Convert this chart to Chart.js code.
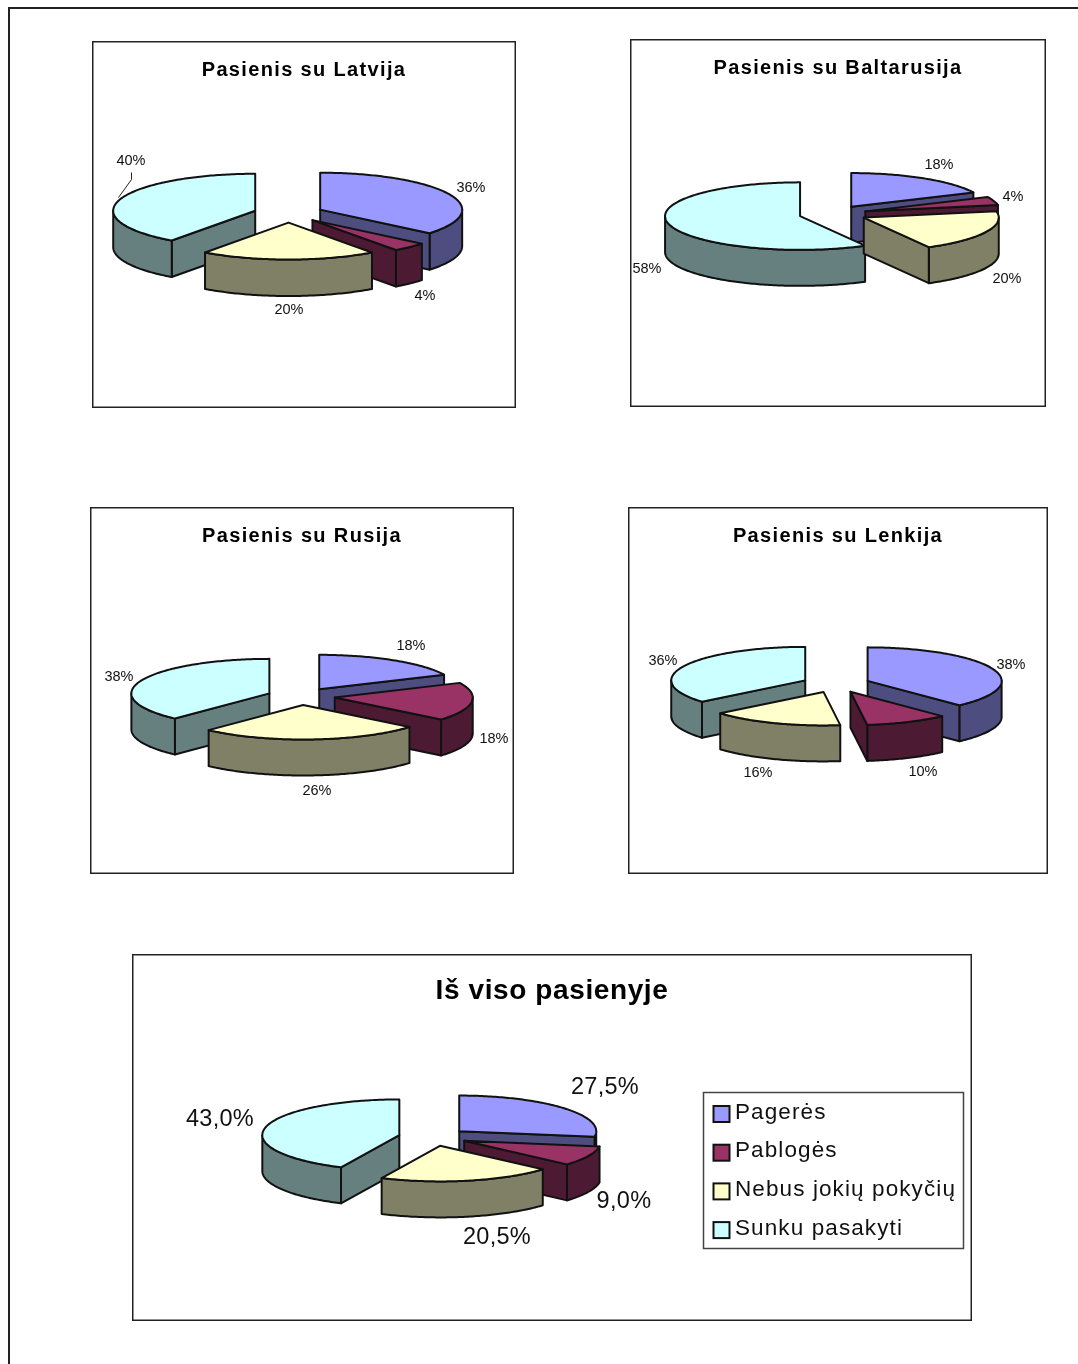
<!DOCTYPE html>
<html lang="lt">
<head>
<meta charset="utf-8">
<title>Pasienis</title>
<script src="https://cdn.jsdelivr.net/npm/chart.js@4/dist/chart.umd.js"></script>
<style>
  html, body { margin: 0; padding: 0; background: #fff; }
  body { position: relative; width: 1078px; height: 1364px; overflow: hidden; }
  #frame { position: absolute; left: 8px; top: 7px; right: -4px; bottom: -4px; border: 2px solid #222; }
  canvas { position: absolute; display: block; }
</style>
</head>
<body>
<div id="frame"></div>
<script>
const categories = ['Pagerės', 'Pablogės', 'Nebus jokių pokyčių', 'Sunku pasakyti'];

const latvijaValues = [36, 4, 20, 40];
const baltarusijaValues = [18, 4, 20, 58];
const rusijaValues = [18, 18, 26, 38];
const lenkijaValues = [38, 10, 16, 36];
const totalValues = [27.5, 9, 20.5, 43];

const latvijaLabels = ['36%', '4%', '20%', '40%'];
const baltarusijaLabels = ['18%', '4%', '20%', '58%'];
const rusijaLabels = ['18%', '18%', '26%', '38%'];
const lenkijaLabels = ['38%', '10%', '16%', '36%'];
const totalLabels = ['27,5%', '9,0%', '20,5%', '43,0%'];

const topColors = ['#9999FF', '#993366', '#FFFFCC', '#CCFFFF'];
const wallColors = ['#4D4D80', '#4D1A33', '#808066', '#668080'];

const FONT = '"Liberation Sans", Arial, sans-serif';
const LINE = '#111';

// pie : centre, rayon, écrasement, explosion, épaisseur (px page)
const charts = [
  { title: 'Pasienis su Latvija', values: latvijaValues, labels: latvijaLabels,
    box: [92, 41, 424, 367], center: [288.5, 213.5], r: 142, squash: 0.26, explode: 35, depth: 36.5,
    labelAt: [[182.5, -26.5], [136.5, 81.5], [0.5, 95.5], [-157.5, -53.5]],
    leader: [[-157, -41], [-157, -34], [-170, -16]] },
  { title: 'Pasienis su Baltarusija', values: baltarusijaValues, labels: baltarusijaLabels,
    box: [630, 39, 416, 368], center: [833, 214], r: 135, squash: 0.25, explode: 34, depth: 36,
    labelAt: [[106, -50], [180, -18], [174, 64], [-186, 54]] },
  { title: 'Pasienis su Rusija', values: rusijaValues, labels: rusijaLabels,
    box: [90, 507, 424, 367], center: [301, 696.5], r: 138, squash: 0.25, explode: 34, depth: 36,
    labelAt: [[110, -51.5], [193, 41.5], [16, 93.5], [-182, -20.5]] },
  { title: 'Pasienis su Lenkija', values: lenkijaValues, labels: lenkijaLabels,
    box: [628, 507, 420, 367], center: [836, 684], r: 134, squash: 0.25, explode: 34, depth: 36,
    labelAt: [[175, -20], [87, 87], [-78, 88], [-173, -24]] },
  { title: 'Iš viso pasienyje', values: totalValues, labels: totalLabels,
    box: [132, 954, 840, 367], center: [433, 1137], r: 137, squash: 0.26, explode: 34.5, depth: 36,
    labelAt: [[172, -51], [191, 63], [64, 99], [-213, -19]],
    titleSize: 28, titleSpacing: 0.6, titlePad: 20, labelSize: 23.5, labelSpacing: 0.3,
    legend: { x: 703, y: 1092, w: 260, h: 156 } },
];

// Trace un pan de mur entre deux suites de points (face + bas)
function drawWall(ctx, pts, depth, fill) {
  ctx.beginPath();
  pts.forEach((p, i) => (i ? ctx.lineTo(p[0], p[1]) : ctx.moveTo(p[0], p[1])));
  for (let i = pts.length - 1; i >= 0; i--) ctx.lineTo(pts[i][0], pts[i][1] + depth);
  ctx.closePath();
  ctx.fillStyle = fill;
  ctx.fill();
  ctx.stroke();
}

// Découpe le contour en morceaux tournés vers l'observateur (dx < 0)
function facingRuns(pts) {
  const runs = [];
  let run = null;
  for (let i = 1; i < pts.length; i++) {
    if (pts[i][0] < pts[i - 1][0] - 1e-6) {
      if (!run) { run = [pts[i - 1]]; runs.push(run); }
      run.push(pts[i]);
    } else {
      run = null;
    }
  }
  return runs;
}

const pie3d = {
  id: 'pie3d',
  beforeUpdate(chart, args, opts) {
    chart.ctx.letterSpacing = (opts.spec.titleSpacing === undefined ? 1.35 : opts.spec.titleSpacing) + 'px';
  },
  beforeDraw(chart) {
    const { ctx, width, height } = chart;
    ctx.save();
    ctx.strokeStyle = '#222';
    ctx.lineWidth = 1.5;
    ctx.strokeRect(0.75, 0.75, width - 1.5, height - 1.5);
    ctx.restore();
  },
  beforeDatasetDraw() {
    return false; // les parts sont dessinées plus bas, de l'arrière vers l'avant
  },
  afterDatasetsDraw(chart, args, opts) {
    const { ctx } = chart;
    const s = opts.spec;
    const cx = s.center[0] - s.box[0];
    const cy = s.center[1] - s.box[1];
    const arcs = chart.getDatasetMeta(0).data.map((arc, i) => ({ arc, i, mid: (arc.startAngle + arc.endAngle) / 2 }));
    arcs.sort((a, b) => Math.sin(a.mid) - Math.sin(b.mid));

    ctx.save();
    ctx.strokeStyle = LINE;
    ctx.lineWidth = 2;
    ctx.lineJoin = 'round';
    arcs.forEach(({ arc, i, mid }) => {
      const ex = Math.cos(mid) * s.explode;
      const ey = Math.sin(mid) * s.explode;
      const project = (x, y) => [cx + x, cy + y * s.squash];
      const apex = project(ex, ey);
      const rim = [];
      const steps = Math.max(2, Math.ceil((arc.endAngle - arc.startAngle) * 60));
      for (let k = 0; k <= steps; k++) {
        const t = arc.startAngle + (arc.endAngle - arc.startAngle) * k / steps;
        rim.push(project(ex + arc.outerRadius * Math.cos(t), ey + arc.outerRadius * Math.sin(t)));
      }
      // murs : deux coupes droites + bord courbe
      [[apex, rim[0]], rim, [rim[rim.length - 1], apex]].forEach((part) => {
        facingRuns(part).forEach((run) => drawWall(ctx, run, s.depth, wallColors[i]));
      });
      // dessus : l'élément arc de Chart.js, écrasé
      ctx.save();
      ctx.translate(cx, cy);
      ctx.scale(1, s.squash);
      ctx.translate(ex - arc.x, ey - arc.y);
      arc.draw(ctx);
      ctx.restore();
      ctx.beginPath();
      ctx.moveTo(apex[0], apex[1]);
      rim.forEach((p) => ctx.lineTo(p[0], p[1]));
      ctx.closePath();
      ctx.stroke();
    });
    ctx.restore();

    // étiquettes
    const size = s.labelSize || 14.5;
    ctx.save();
    ctx.fillStyle = '#111';
    ctx.font = size + 'px ' + FONT;
    ctx.letterSpacing = (s.labelSpacing || 0) + 'px';
    ctx.textAlign = 'center';
    ctx.textBaseline = 'middle';
    s.labels.forEach((txt, i) => ctx.fillText(txt, cx + s.labelAt[i][0], cy + s.labelAt[i][1] + size * 0.08));
    if (s.leader) {
      ctx.strokeStyle = '#222';
      ctx.lineWidth = 1;
      ctx.beginPath();
      s.leader.forEach((p, i) => (i ? ctx.lineTo(cx + p[0], cy + p[1]) : ctx.moveTo(cx + p[0], cy + p[1])));
      ctx.stroke();
    }
    ctx.restore();
  },
  afterDraw(chart, args, opts) {
    const l = opts.spec.legend;
    if (!l) return;
    const { ctx } = chart;
    const x0 = l.x - opts.spec.box[0];
    const y0 = l.y - opts.spec.box[1];
    ctx.save();
    ctx.strokeStyle = '#444';
    ctx.lineWidth = 1.5;
    ctx.strokeRect(x0 + 0.5, y0 + 0.5, l.w, l.h);
    ctx.font = '22.5px ' + FONT;
    ctx.letterSpacing = '1.1px';
    ctx.textBaseline = 'middle';
    chart.data.labels.forEach((name, i) => {
      const rowY = y0 + 20 + i * 38.7;
      ctx.fillStyle = topColors[i];
      ctx.strokeStyle = LINE;
      ctx.lineWidth = 2;
      ctx.fillRect(x0 + 10.5, rowY - 6, 16, 16);
      ctx.strokeRect(x0 + 10.5, rowY - 6, 16, 16);
      ctx.fillStyle = '#111';
      ctx.fillText(name, x0 + 32, rowY + 0.5);
    });
    ctx.restore();
  },
};

charts.forEach((spec) => {
  const canvas = document.createElement('canvas');
  canvas.width = spec.box[2];
  canvas.height = spec.box[3];
  canvas.style.left = spec.box[0] + 'px';
  canvas.style.top = spec.box[1] + 'px';
  document.body.appendChild(canvas);

  new Chart(canvas, {
    type: 'pie',
    data: {
      labels: categories,
      datasets: [{ data: spec.values, backgroundColor: topColors, borderWidth: 0 }],
    },
    options: {
      responsive: false,
      animation: false,
      events: [],
      radius: spec.r,
      plugins: {
        legend: { display: false },
        tooltip: { enabled: false },
        title: {
          display: true,
          text: spec.title,
          color: '#000',
          font: { family: FONT, size: spec.titleSize || 20, weight: 'bold' },
          padding: { top: spec.titlePad || 17, bottom: 0 },
        },
        pie3d: { spec },
      },
    },
    plugins: [pie3d],
  });
});
</script>
</body>
</html>
